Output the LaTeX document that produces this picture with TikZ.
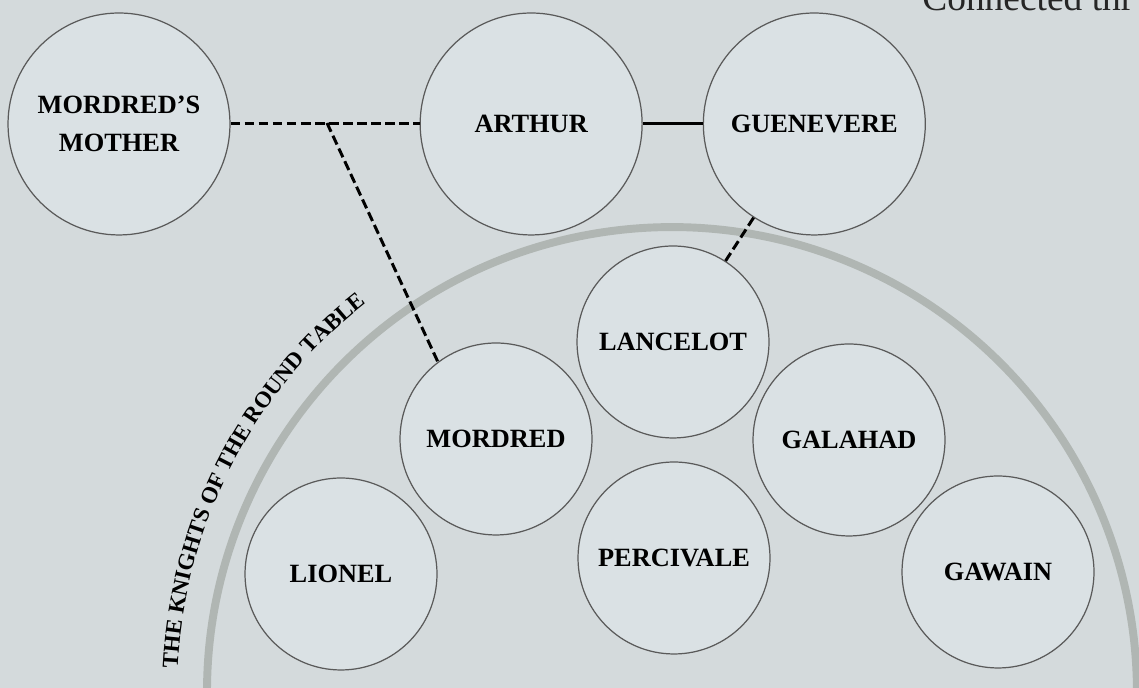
\documentclass[tikz,border=0pt]{standalone}
\usepackage{fontspec}
\setmainfont{Liberation Serif}
\usepackage{xcolor}
\usetikzlibrary{positioning, decorations.text}

\definecolor{parchment}{HTML}{D4DADC}
\definecolor{discfill}{HTML}{DAE1E4}
\definecolor{discline}{HTML}{5A5A5A}
\definecolor{ringgray}{HTML}{B0B6B3}

\begin{document}
\begin{tikzpicture}[
    x=0.02cm, y=0.02cm,
    person/.style={circle, draw=discline, line width=0.7pt, fill=discfill, inner sep=0pt,
        minimum size=4.44cm, align=center, font=\fontsize{15}{22}\selectfont\bfseries},
    knight/.style={person, minimum size=3.84cm},
    ring/.style={draw=ringgray, line width=4.5pt},
    tie/.style={line width=1.7pt, black},
    dashtie/.style={tie, dash pattern=on 5.5pt off 2.5pt}
]
% Canvas
\clip (0,0) rectangle (1139,688);
\fill[parchment] (0,0) rectangle (1139,688);

% Round table
\draw[ring] (672,-4) ++(190:9.3cm) arc[start angle=190, end angle=-10, radius=9.3cm];
\path[decorate, decoration={text along path, text align=center,
    text={|\fontsize{13}{15}\selectfont\bfseries|THE KNIGHTS OF THE ROUND TABLE}}]
    (672,-4) ++(180:9.9cm) arc[start angle=180, end angle=125.4, radius=9.9cm];

% Heading (cut by the top edge)
\node[anchor=base west, inner sep=0pt, text=black!85, font=\fontsize{21.3}{24}\selectfont] (heading) at (922,677) {Connected thr};

% Royal family
\node[person] (mother) at (119,564) {MORDRED'S\\MOTHER};
\node[person, right=3.78cm of mother] (arthur) {ARTHUR};
\node[person, right=1.2cm of arthur] (guenevere) {GUENEVERE};

% Knights
\node[knight] (lancelot) at (673,346) {LANCELOT};
\node[knight] (galahad) at (849,248) {GALAHAD};
\node[knight] (gawain) at (998,116) {GAWAIN};
\node[knight] (percivale) at (674,130) {PERCIVALE};
\node[knight] (mordred) at (496,249) {MORDRED};
\node[knight] (lionel) at (341,114) {LIONEL};

% Relations
\coordinate (affair) at (327,565);
\draw[dashtie] (mother) -- (arthur);
\draw[dashtie] (affair) -- (mordred.127);
\draw[tie] (arthur) -- (guenevere);
\draw[dashtie] (guenevere) -- (lancelot);

\end{tikzpicture}
\end{document}
